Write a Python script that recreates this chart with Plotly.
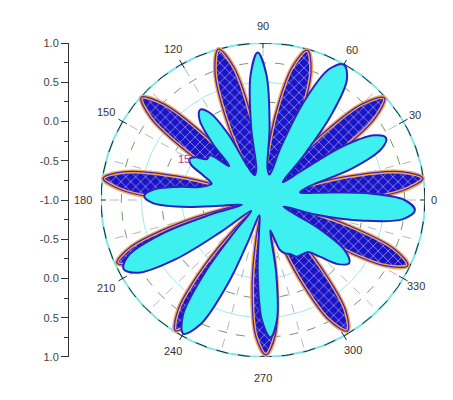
import numpy as np
import plotly.graph_objects as go

# outline of the hatched (outer) curve, angle in degrees / radius
outer_theta = [
    -3, 0, 4, 8, 12, 16, 19, 24.5,
    30, 33, 37, 41, 45, 49, 52, 57.5,
    63, 66, 70, 74, 78, 82, 85, 90,
    95, 98, 102, 106, 110, 114, 117, 122.5,
    128, 131, 135, 139, 143, 147, 150, 155.5,
    161, 164, 168, 172, 176, 180, 183, 188,
    193, 196, 200, 204, 208, 212, 215, 220.5,
    226, 229, 233, 237, 241, 245, 248, 254,
    260, 263, 267, 271, 275, 279, 282, 286.5,
    291, 294, 298, 302, 306, 310, 313, 318.5,
    324, 327, 331, 335, 339, 343, 346, 351.5,
]
outer_r = [
    7.5, 16.5, 26, 29.9, 26, 16.5, 7.5, 0.5,
    7.5, 16.5, 26, 29.8, 26, 16.5, 7.5, 0.5,
    7.5, 16.5, 26, 29.8, 26, 16.5, 7.5, 0.5,
    7.5, 16.5, 26, 30.0, 26, 16.5, 7.5, 0.5,
    7.5, 16.5, 26, 29.9, 26, 16.5, 7.5, 0.5,
    7.5, 16.5, 26, 29.9, 26, 16.5, 7.5, 0.5,
    7.5, 16.5, 26, 29.6, 26, 16.5, 7.5, 0.5,
    7.5, 16.5, 26, 29.8, 26, 16.5, 7.5, 0.5,
    7.5, 16.5, 26, 29.6, 26, 16.5, 7.5, 0.5,
    7.5, 16.5, 26, 29.5, 26, 16.5, 7.5, 0.5,
    7.5, 16.5, 26, 29.6, 26, 16.5, 7.5, 0.5,
]

# outline of the cyan (inner) curve
inner_theta = [
    -16, -12, -8, -4, 0, 4, 8, 12,
    17, 20, 24, 27.5, 31, 35, 38, 43,
    48, 52, 56, 60, 64, 68, 72, 76,
    82, 85, 88.5, 92, 95.5, 99, 102, 108,
    114, 117, 120.5, 124, 127.5, 131, 134, 139,
    143, 147, 150, 153, 157, 162,
    168, 171, 174.5, 178, 181.5, 185, 188, 193,
    196, 199, 203, 207, 211, 215, 218, 224,
    229, 232, 236, 240, 244, 248, 251, 257,
    263, 266, 269.5, 273, 276.5, 280, 283, 286,
    288, 292, 296, 300,
    310, 314, 318.5, 323, 327.5, 332, 336, 342,
]
inner_r = [
    10, 19, 26.2, 28.2, 26.2, 19, 10, 7,
    9, 17.5, 24, 25.7, 24, 17.5, 9, 5,
    10.5, 20.3, 27.8, 29.9, 27.8, 20.3, 10.5, 5,
    6, 14, 24, 28.2, 24, 14, 6, 5,
    7, 14, 19.3, 20.8, 19.3, 14, 9, 13,
    13, 15, 15.7, 15, 12, 10,
    12, 16, 20.5, 22, 20.5, 15, 8, 4,
    10, 19.7, 27, 29, 27, 19.7, 10, 3,
    8, 17, 26.5, 29.5, 26.5, 17, 8, 3,
    6, 14, 23, 26.3, 23, 14, 6, 8,
    10, 11, 11.5, 12.5,
    13, 15, 18.5, 20, 18, 12, 6, 4,
]

# polar frame
r_max = 30
solid_circles = [7.5, 15, 22.5]
dashed_circles = [3.75, 11.25, 18.75, 26.25]
spoke_angles = list(range(0, 360, 15))
angle_ticks = [0, 30, 60, 90, 120, 150, 180, 210, 240, 270, 300, 330]
angle_text = ['0', '30', '60', '90', '120', '150', '180', '210', '240', '270', '300', '330']
angle_text_r = [31.6, 32.6, 33, 33.2, 33.4, 33.6, 33.4, 33.6, 33.4, 34.0, 33.2, 32.8]
radial_label, radial_label_theta, radial_label_r = '15', 152, 16.5

# left axis
ytick_vals = [-30, -22.5, -15, -7.5, 0, 7.5, 15, 22.5, 30]
ytick_text = ['1.0', '0.5', '0.0', '-0.5', '-1.0', '-0.5', '0.0', '0.5', '1.0']

# the page body keeps its 8px margin; the figure is shrunk by it so nothing overflows
PAD = 8
W, H = 453 - 2 * PAD, 400 - 2 * PAD
FONT = 'Liberation Sans'
XDOM = [(101 - PAD) / W, (425 - PAD) / W]
YDOM = [1 - (362 - PAD) / H, 1 - (38 - PAD) / H]


def to_xy(theta, r, close=True):
    t = np.radians(np.asarray(theta, dtype=float))
    r = np.asarray(r, dtype=float)
    x, y = r * np.cos(t), r * np.sin(t)
    if close:
        x, y = np.append(x, x[0]), np.append(y, y[0])
    return x, y


def to_paper(x, y):
    # data -> paper fraction, so labels outside the axis range are still drawn
    px = XDOM[0] + (x + r_max) / (2 * r_max) * (XDOM[1] - XDOM[0])
    py = YDOM[0] + (y + r_max) / (2 * r_max) * (YDOM[1] - YDOM[0])
    return px, py


def circle(rad):
    t = np.linspace(0, 360, 361)
    return to_xy(t, np.full_like(t, rad), close=False)


fig = go.Figure()

# grid
for rad in dashed_circles:
    cx, cy = circle(rad)
    fig.add_trace(go.Scatter(x=cx, y=cy, mode='lines',
                             line=dict(color='#6f9a6f', width=1, dash='dash')))
for rad in solid_circles:
    cx, cy = circle(rad)
    fig.add_trace(go.Scatter(x=cx, y=cy, mode='lines',
                             line=dict(color='#9fe8ee', width=1)))
sx, sy = [], []
for a in spoke_angles:
    px, py = to_xy([a, a], [0, r_max], close=False)
    sx += list(px) + [None]
    sy += list(py) + [None]
fig.add_trace(go.Scatter(x=sx, y=sy, mode='lines',
                         line=dict(color='#b8b8b8', width=1, dash='dash')))
cx, cy = circle(r_max)
fig.add_trace(go.Scatter(x=cx, y=cy, mode='lines', line=dict(color='#7fe6ee', width=2)))
fig.add_trace(go.Scatter(x=cx, y=cy, mode='lines',
                         line=dict(color='#222222', width=1, dash='12px,10px')))
tx, ty = [], []
for a in angle_ticks:
    px, py = to_xy([a, a], [r_max - 0.9, r_max + 0.9], close=False)
    tx += list(px) + [None]
    ty += list(py) + [None]
fig.add_trace(go.Scatter(x=tx, y=ty, mode='lines', line=dict(color='#222222', width=1),
                         cliponaxis=False))

# hatched curve
ox, oy = to_xy(outer_theta, outer_r)
fig.add_trace(go.Scatter(
    x=ox, y=oy, mode='lines', fill='toself',
    line=dict(color='#f2a852', width=4, shape='spline', smoothing=1),
    fillcolor='#1a14c8',
    fillpattern=dict(shape='x', fgcolor='white', bgcolor='#1a14c8',
                     size=7, solidity=0.12, fillmode='replace'),
))
fig.add_trace(go.Scatter(x=ox, y=oy, mode='lines',
                         line=dict(color='#4a22b8', width=1.3, shape='spline', smoothing=1)))

# cyan curve
ix, iy = to_xy(inner_theta, inner_r)
fig.add_trace(go.Scatter(
    x=ix, y=iy, mode='lines', fill='toself', fillcolor='#3ef0f0',
    line=dict(color='#2a22c0', width=2, shape='spline', smoothing=1),
))

# angle labels and the radial label
lx, ly = to_xy(angle_ticks, angle_text_r, close=False)
for x, y, txt in zip(lx, ly, angle_text):
    px, py = to_paper(x, y)
    fig.add_annotation(x=px, y=py, text=txt, showarrow=False, xref='paper', yref='paper',
                       xanchor='center', yanchor='middle',
                       font=dict(family=FONT, size=11, color='#333333'))
rx, ry = to_xy([radial_label_theta], [radial_label_r], close=False)
px, py = to_paper(rx[0], ry[0])
fig.add_annotation(x=px, y=py, text=radial_label, showarrow=False, xref='paper', yref='paper',
                   xanchor='center', yanchor='middle',
                   font=dict(family=FONT, size=11, color='#c0309a'))

fig.update_layout(
    width=W, height=H, autosize=False,
    margin=dict(l=0, r=0, t=0, b=0),
    paper_bgcolor='white', plot_bgcolor='rgba(0,0,0,0)',
    showlegend=False,
    xaxis=dict(domain=XDOM, range=[-r_max, r_max], visible=False),
    yaxis=dict(domain=YDOM, range=[-r_max, r_max],
               anchor='free', position=(68 - PAD) / W,
               showline=True, linecolor='#333333', linewidth=1,
               showgrid=False, zeroline=False,
               tickmode='array', tickvals=ytick_vals, ticktext=ytick_text,
               ticks='outside', ticklen=7, tickcolor='#333333',
               tickfont=dict(family=FONT, size=11, color='#444444'),
               minor=dict(tickmode='linear', tick0=-26.25, dtick=7.5,
                          ticks='outside', ticklen=4, tickcolor='#333333')),
)

fig.write_html("out.html")
